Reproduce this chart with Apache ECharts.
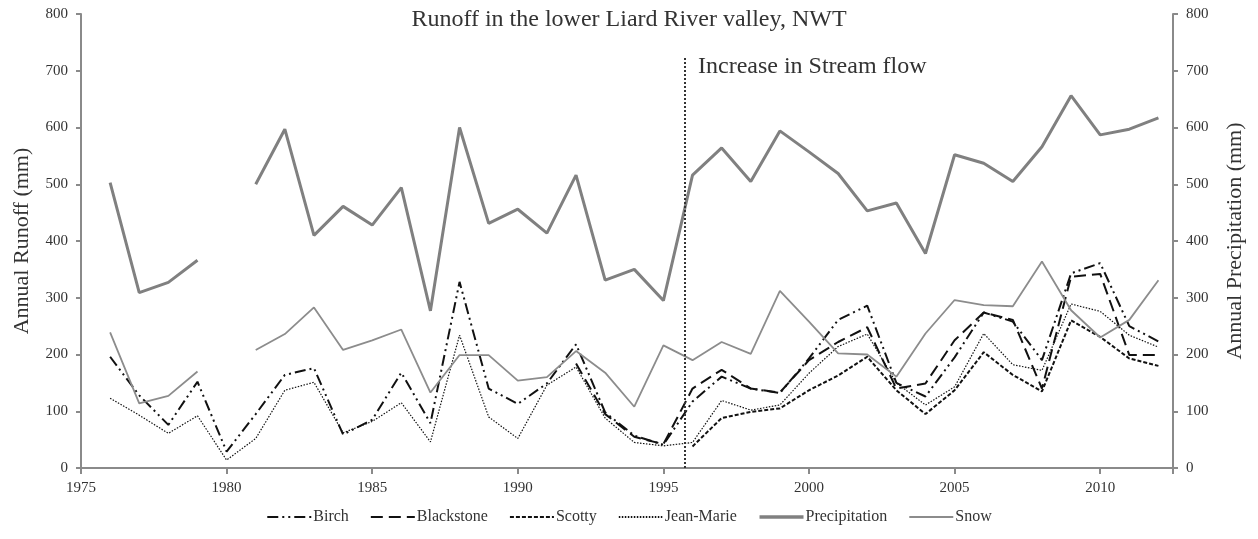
<!DOCTYPE html>
<html>
<head>
<meta charset="utf-8">
<script src="https://cdn.jsdelivr.net/npm/echarts@6/dist/echarts.min.js"></script>
<style>
  html, body { margin: 0; padding: 0; background: #fff; }
  #main { width: 1258px; height: 539px; }
</style>
</head>
<body>
<div id="main"></div>
<script>
// years with observations
const years = [1976, 1977, 1978, 1979, 1980, 1981, 1982, 1983, 1984, 1985, 1986, 1987, 1988,
  1989, 1990, 1991, 1992, 1993, 1994, 1995, 1996, 1997, 1998, 1999, 2000, 2001, 2002,
  2003, 2004, 2005, 2006, 2007, 2008, 2009, 2010, 2011, 2012];

// runoff (mm)
const birch = [196, 128, 76, 152, 29, 95, 164, 176, 59, 85, 168, 79, 328,
  140, 113, 149, 218, 98, 57, 41, 117, 161, 140, 132, 193, 261, 286,
  150, 126, 195, 274, 258, 190, 343, 361, 250, 223];
const blackstone = [null, null, null, null, null, null, null, null, null, null, null, null, null,
  null, null, null, 184, 95, 55, 42, 140, 173, 140, 133, 190, 222, 248,
  140, 149, 225, 274, 261, 140, 337, 342, 199, 199];
const scotty = [null, null, null, null, null, null, null, null, null, null, null, null, null,
  null, null, null, null, null, null, null, 38, 88, 99, 105, 137, 163, 196,
  137, 95, 137, 204, 164, 135, 260, 231, 193, 180];
const jeanMarie = [123, 93, 61, 92, 14, 52, 137, 151, 62, 82, 115, 46, 234,
  90, 52, 146, 178, 88, 45, 39, 45, 119, 102, 111, 167, 214, 236,
  150, 111, 143, 237, 182, 172, 289, 276, 234, 213];

// precipitation (mm)
const precipitation = [503, 309, 327, 366, null, 500, 597, 410, 461, 428, 494, 277, 600,
  431, 456, 414, 516, 331, 350, 295, 516, 564, 505, 594, 557, 519, 453,
  467, 378, 552, 537, 505, 566, 656, 587, 597, 617];
const snow = [239, 114, 127, 170, null, 208, 236, 283, 208, 225, 244, 133, 199,
  199, 154, 160, 206, 168, 108, 216, 190, 222, 201, 312, 258, 202, 200,
  161, 237, 296, 287, 285, 364, 278, 230, 261, 331];

const changeYear = 1995.72;

const pairs = (vals) => years.map((y, i) => [y, vals[i]]);

const serif = '"Liberation Serif", "Times New Roman", serif';
const axisGray = '#8a8a8a';
const textColor = '#333';

const yAxisBase = {
  type: 'value',
  min: 0,
  max: 800,
  interval: 100,
  nameLocation: 'middle',
  nameTextStyle: { fontFamily: serif, fontSize: 22, color: textColor },
  axisLine: { show: true, lineStyle: { color: axisGray, width: 2 } },
  axisTick: { show: true, length: 5, lineStyle: { color: axisGray, width: 2 } },
  axisLabel: { fontFamily: serif, fontSize: 15, color: textColor, margin: 13 },
  splitLine: { show: false }
};

const option = {
  animation: false,
  backgroundColor: '#fff',
  title: {
    text: 'Runoff in the lower Liard River valley, NWT',
    left: 'center',
    top: 3,
    textStyle: { fontFamily: serif, fontSize: 24, fontWeight: 'normal', color: textColor }
  },
  grid: { left: 81, right: 85, top: 14, bottom: 71, containLabel: false, outerBoundsMode: 'none' },
  legend: {
    bottom: 9,
    left: 'center',
    itemWidth: 44,
    itemHeight: 8,
    itemGap: 21,
    itemStyle: { opacity: 0 },
    textStyle: { fontFamily: serif, fontSize: 16, color: textColor, padding: [0, 0, 0, -3] },
    data: [
      { name: 'Birch' },
      { name: 'Blackstone' },
      { name: 'Scotty' },
      { name: 'Jean-Marie' },
      { name: 'Precipitation', lineStyle: { width: 3.5 } },
      { name: 'Snow', lineStyle: { width: 2 } }
    ]
  },
  graphic: [{
    type: 'text',
    left: 698,
    top: 55,
    style: { text: 'Increase in Stream flow', font: '24px ' + serif, fill: textColor }
  }],
  xAxis: {
    type: 'value',
    min: 1975,
    max: 2012.5,
    interval: 5,
    axisLine: { lineStyle: { color: axisGray, width: 2 } },
    axisTick: { length: 6, lineStyle: { color: axisGray, width: 2 } },
    axisLabel: {
      fontFamily: serif, fontSize: 15, color: textColor, margin: 13,
      formatter: (v) => (v % 5 === 0 ? String(v) : '')
    },
    splitLine: { show: false }
  },
  yAxis: [
    Object.assign({}, yAxisBase, { name: 'Annual Runoff (mm)', nameGap: 48, position: 'left' }),
    Object.assign({}, yAxisBase, { name: 'Annual Precipitation (mm)', nameGap: 51, position: 'right' })
  ],
  series: [
    {
      name: 'Birch', type: 'line', data: pairs(birch), symbol: 'none',
      color: '#111',
      lineStyle: { color: '#111', width: 2, type: [11, 4, 2, 4, 2, 4] },
      markLine: {
        silent: true,
        symbol: 'none',
        label: { show: false },
        lineStyle: { color: '#333', width: 2, type: [2, 2] },
        data: [[{ coord: [changeYear, 0] }, { coord: [changeYear, 726] }]]
      }
    },
    {
      name: 'Blackstone', type: 'line', data: pairs(blackstone), symbol: 'none',
      color: '#111',
      lineStyle: { color: '#111', width: 2, type: [12, 6] }
    },
    {
      name: 'Scotty', type: 'line', data: pairs(scotty), symbol: 'none',
      color: '#111',
      lineStyle: { color: '#111', width: 2, type: [4, 2] }
    },
    {
      name: 'Jean-Marie', type: 'line', data: pairs(jeanMarie), symbol: 'none',
      color: '#111',
      lineStyle: { color: '#111', width: 1.2, type: [1.5, 1.5] }
    },
    {
      name: 'Precipitation', type: 'line', yAxisIndex: 1, data: pairs(precipitation), symbol: 'none',
      color: '#808080',
      lineStyle: { color: '#808080', width: 3 }
    },
    {
      name: 'Snow', type: 'line', yAxisIndex: 1, data: pairs(snow), symbol: 'none',
      color: '#8c8c8c',
      lineStyle: { color: '#8c8c8c', width: 1.8 }
    }
  ]
};

const myChart = echarts.init(document.getElementById('main'));
myChart.setOption(option);
</script>
</body>
</html>
